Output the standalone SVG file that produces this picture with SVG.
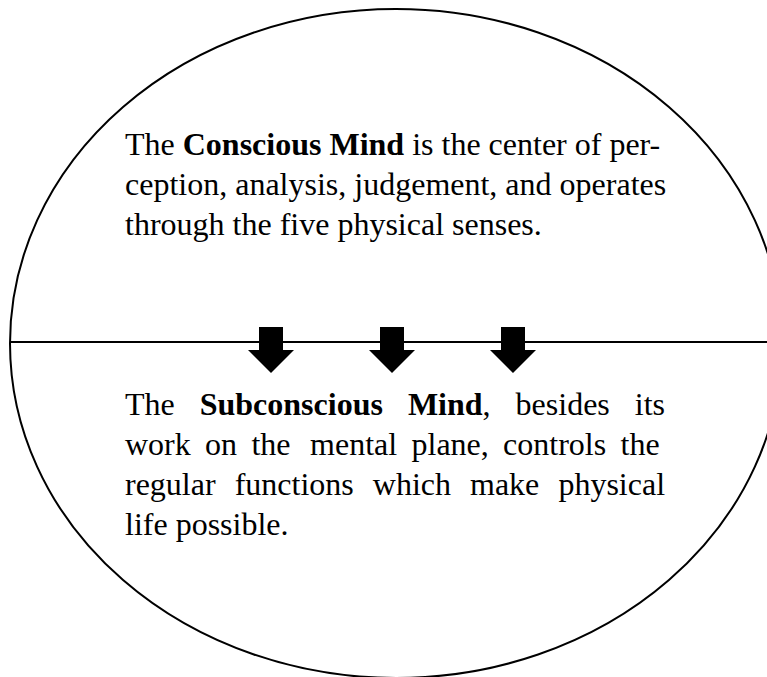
<svg xmlns="http://www.w3.org/2000/svg" xmlns:xlink="http://www.w3.org/1999/xlink" width="767" height="677" viewBox="0 0 767 677">
<style>
.outline{fill:none;stroke:#000;stroke-width:2}
.txt{font-family:"Liberation Serif","Times New Roman",serif;font-size:32px;fill:#000}
.b{font-weight:bold}
.arrow{fill:#000}
</style>
<defs>
<path id="downArrow" d="M-12,327 L12,327 L12,350 L23,350 L0,373 L-23,350 L-12,350 Z"/>
</defs>
<rect width="767" height="677" fill="#fff"/>
<g id="mind">
<ellipse class="outline" cx="396" cy="343.5" rx="386" ry="334.5"/>
</g>
<g id="divider">
<line class="outline" x1="10" y1="342" x2="767" y2="342"/>
</g>
<g id="conscious">
<text class="txt" x="125" y="155">The <tspan class="b">Conscious Mind</tspan> is the center of per-</text>
<text class="txt" x="125" y="195">ception, analysis, judgement, and operates</text>
<text class="txt" x="125" y="235">through the five physical senses.</text>
</g>
<g id="connectors">
<use class="arrow" xlink:href="#downArrow" href="#downArrow" x="271"/>
<use class="arrow" xlink:href="#downArrow" href="#downArrow" x="392"/>
<use class="arrow" xlink:href="#downArrow" href="#downArrow" x="513"/>
</g>
<g id="subconscious">
<text class="txt" y="415"><tspan x="125">The</tspan><tspan x="199.7" class="b">Subconscious</tspan><tspan x="407.9"><tspan class="b">Mind</tspan>,</tspan><tspan x="515.6">besides</tspan><tspan x="634.8">its</tspan></text>
<text class="txt" y="455"><tspan x="125">work</tspan><tspan x="205.1">on</tspan><tspan x="251.4">the</tspan><tspan x="310.1">mental</tspan><tspan x="411.5">plane,</tspan><tspan x="503.1">controls</tspan><tspan x="620.6">the</tspan></text>
<text class="txt" y="495"><tspan x="125">regular</tspan><tspan x="234.7">functions</tspan><tspan x="372.8">which</tspan><tspan x="470">make</tspan><tspan x="558.4">physical</tspan></text>
<text class="txt" x="125" y="535">life possible.</text>
</g>
</svg>
